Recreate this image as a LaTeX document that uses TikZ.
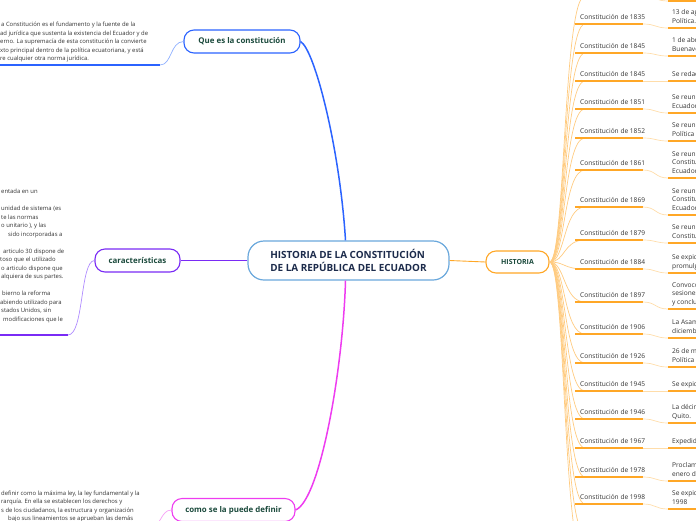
\documentclass[tikz,border=0pt]{standalone}
\usepackage{fontspec}
\setmainfont{Open Sans}
\usetikzlibrary{calc}
\definecolor{cblue}{HTML}{2B63FF}
\definecolor{cbluel}{HTML}{8FB0FF}
\definecolor{cpur}{HTML}{7A2BF5}
\definecolor{cpurl}{HTML}{B08CFF}
\definecolor{cmag}{HTML}{EE3CF0}
\definecolor{cmagl}{HTML}{F6A0F6}
\definecolor{corg}{HTML}{FFA726}
\definecolor{corgl}{HTML}{FFCB80}
\definecolor{corgll}{HTML}{FFDDAA}
\definecolor{cmainb}{HTML}{6AA8DC}
\definecolor{ctitle}{HTML}{1C2B4B}
\definecolor{cgreen}{HTML}{1B4A3C}
\definecolor{ctext}{HTML}{333333}
\begin{document}
\begin{tikzpicture}[x=1pt,y=-1pt,
  topic/.style={draw, line width=1.1pt, rounded corners=10pt, fill=white, text=cgreen,
    font=\bfseries\fontsize{7.9}{9}\selectfont, minimum height=23pt, inner sep=0pt},
  small/.style={anchor=base west, inner sep=0pt, text=ctext, font=\fontsize{5.9}{7}\selectfont},
  lab/.style={anchor=base west, inner sep=0pt, text=ctext, font=\fontsize{6.6}{8}\selectfont},
  fan/.style={corgl, line width=0.7pt},
  fanl/.style={corgll, line width=0.7pt},
  uline/.style={corg, line width=1.4pt},
]
\useasboundingbox (0,0) rectangle (696,520);
\clip (0,0) rectangle (696,520);

% ---------- central node ----------
\node[draw=cmainb, line width=1.2pt, rounded corners=16pt, fill=white, text=ctitle,
  font=\bfseries\fontsize{9.9}{13}\selectfont, align=left,
  minimum width=201pt, minimum height=39pt, inner sep=0pt] (main) at (348.5,260.5)
  {HISTORIA DE LA CONSTITUCIÓN\\DE LA REPÚBLICA DEL ECUADOR};

% ---------- topic nodes ----------
\node[topic, draw=cblue, minimum width=116pt] (que) at (242,41.5) {Que es la constitución};
\node[topic, draw=cpur, minimum width=85pt] (car) at (137.5,260.5) {características};
\node[topic, draw=cmag, minimum width=123pt] (como) at (233.5,510) {como se la puede definir};
\node[topic, draw=corg, minimum width=63pt, minimum height=22pt,
  font=\bfseries\fontsize{7}{8}\selectfont] (hist) at (517.5,262) {HISTORIA};

% ---------- main connectors ----------
\draw[cblue, line width=1.5pt] ($(main.north)+(-3,0)$) .. controls (340,150) and (315,50) .. (que.east);
\draw[cmag, line width=1.5pt] ($(main.south)+(-3,0)$) .. controls (343,370) and (320,500) .. (como.east);
\draw[cpur, line width=1.2pt] (main.west) -- (car.east);
\draw[corg, line width=0.9pt] (main.east) -- (hist.west);

% ---------- Que es la constitucion : text ----------
\coordinate (qa) at (160,65);
\coordinate (qb) at (-5,65);
\draw[cbluel, line width=0.7pt] (que.west) .. controls (170,42) and (172,65) .. (qa);
\draw[cblue, line width=1.3pt] (qa) -- (qb);
\node[small] (q1) at (1,26.5) {a Constitución es el fundamento y la fuente de la};
\node[small] (q2) at (0,35) {ad jurídica que sustenta la existencia del Ecuador y de};
\node[small] (q3) at (0,43.5) {erno. La supremacía de esta constitución la convierte};
\node[small] (q4) at (0,52) {xto principal dentro de la política ecuatoriana, y está};
\node[small] (q5) at (0,60.5) {re cualquier otra norma jurídica.};

% ---------- caracteristicas : text ----------
\coordinate (ca) at (68,335);
\coordinate (cb) at (-5,335);
\draw[cpurl, line width=0.7pt] (car.west) .. controls (80,261) and (84,335) .. (ca);
\draw[cpur, line width=1.3pt] (ca) -- (cb);
\node[small] (c1) at (1,193) {entada en un};
\node[small] (c2) at (1,210.5) {unidad de sistema (es};
\node[small] (c3) at (1,219) {te las normas};
\node[small] (c4) at (1,227.5) {o unitario ), y las};
\node[small] (c5) at (8,236) {sido incorporadas a};
\node[small] (c6) at (3,253) {articulo 30 dispone de};
\node[small] (c7) at (0,261.5) {toso que el utilizado};
\node[small] (c8) at (1,270) {o articulo dispone que};
\node[small] (c9) at (1,278.5) {alquiera de sus partes.};
\node[small] (c10) at (2,295.5) {bierno la reforma};
\node[small] (c11) at (0,304) {abiendo utilizado para};
\node[small] (c12) at (1,312.5) {stados Unidos, sin};
\node[small] (c13) at (3,321) {modificaciones que le};

% ---------- como se la puede definir : text ----------
\coordinate (ma) at (148,528);
\coordinate (mb) at (-5,528);
\draw[cmagl, line width=0.7pt] (como.west) .. controls (160,510) and (162,528) .. (ma);
\draw[cmag, line width=1.3pt] (ma) -- (mb);
\node[small] (m1) at (1,495) {definir como la máxima ley, la ley fundamental y la};
\node[small] (m2) at (1,503.5) {rarquía. En ella se establecen los derechos y};
\node[small] (m3) at (1,512) {s de los ciudadanos, la estructura y organización};
\node[small] (m4) at (8,520.5) {bajo sus lineamientos se aprueban las demás};

% ---------- HISTORIA branches ----------
\foreach \yu/\yd in {-4/1, 533/537, 562/566} {
  \draw[fan] (hist.east) .. controls +(16,0) and (563,\yu) .. (585,\yu);
  \draw[uline] (575,\yu) -- (643,\yu);
  \draw[fanl] (643,\yu) .. controls (656,\yu) and (655,\yd) .. (668,\yd);
  \draw[uline] (668,\yd) -- (700,\yd);
}
\foreach \yu/\yd/\yr/\lines [count=\i] in {
  24/28/1835/{Política.,13 de ag},
  53/56/1845/{Buenave,1 de abri},
  81/81/1845/{Se redac},
  109/113/1851/{Ecuador,Se reuni},
  138/141/1852/{Política c,Se reuni},
  170/178/1861/{Ecuador,Constitu,Se reuni},
  207/215/1869/{Ecuador,Constitu,Se reuni},
  240/243/1879/{Constitu,Se reuni},
  269/273/1884/{promulg,Se expid},
  302/309/1897/{y conclu,sesiones,Convoco},
  334/338/1906/{diciemb,La Asam},
  363/367/1926/{Política c,26 de ma},
  391/391/1945/{Se expid},
  419/423/1946/{Quito.,La décim},
  448/448/1967/{Expedida},
  477/481/1978/{enero de,Proclama},
  504/509/1998/{1998,Se expid}} {
  \coordinate (ua\i) at (575,\yu);
  \coordinate (uc\i) at (585,\yu);
  \coordinate (ub\i) at (643,\yu);
  \coordinate (da\i) at (668,\yd);
  \coordinate (db\i) at (700,\yd);
  \draw[fan] (hist.east) .. controls +(16,0) and (563,\yu) .. (uc\i);
  \draw[uline] (ua\i) -- (ub\i);
  \draw[fanl] (ub\i) .. controls (656,\yu) and (655,\yd) .. (da\i);
  \draw[uline] (da\i) -- (db\i);
  \node[lab] (lab\i) at (580,\yu-4.5) {Constitución de \yr};
  \foreach \l [count=\k] in \lines {
    \node[lab] (d\i-\k) at (672,\yd+3.5-8.5*\k) {\l};
  }
}
\end{tikzpicture}
\end{document}
